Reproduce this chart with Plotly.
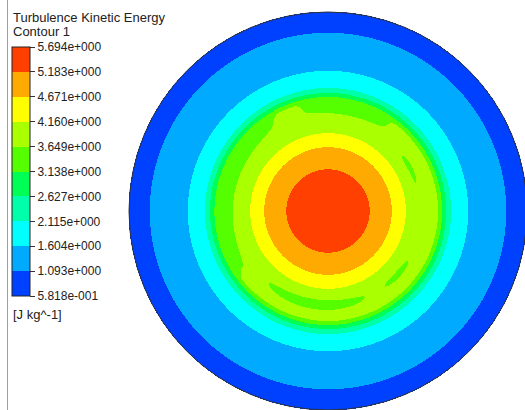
import numpy as np
import plotly.graph_objects as go

# Contour levels of the legend, turbulence kinetic energy [J kg^-1]
LEVELS = [0.5818, 1.093, 1.604, 2.115, 2.627, 3.138, 3.649, 4.160, 4.671, 5.183, 5.694]
BAND_COLORS = ["#0040ff", "#00aaff", "#00ffff", "#00ffaa", "#00ff55",
               "#55ff00", "#aaff00", "#ffff00", "#ffaa00", "#ff4000"]

# Mean radial profile of k over the pipe cross-section (r / R  ->  k)
PROFILE_R = [0.000, 0.100, 0.211, 0.322, 0.392, 0.462, 0.523, 0.553, 0.573, 0.593, 0.618, 0.704, 0.894, 1.000]
PROFILE_K = [5.80, 5.65, 5.183, 4.671, 4.160, 3.87, 3.78, 3.649, 3.138, 2.627, 2.115, 1.604, 1.093, 0.60]

# Low-k swirl streaks in the annular region: angular span (deg), radius (r / R), radial width, depth of the dip
STREAK_T0 = [118, 52, 222, 10, 300]
STREAK_T1 = [218, 108, 302, 45, 335]
STREAK_R = [0.515, 0.515, 0.468, 0.462, 0.472]
STREAK_W = [0.040, 0.030, 0.032, 0.026, 0.026]
STREAK_DEPTH = [0.45, 0.35, 0.40, 0.28, 0.28]


def fluent_fmt(v):
    exp = int(np.floor(np.log10(abs(v))))
    mant = v / 10 ** exp
    sign = "+" if exp >= 0 else "-"
    return f"{mant:.3f}e{sign}{abs(exp):03d}"


# Sample the section on a regular grid
n = 401
xs = np.linspace(-1.0, 1.0, n)
ys = np.linspace(-1.0, 1.0, n)
X, Y = np.meshgrid(xs, ys)
R = np.hypot(X, Y)
TH = np.degrees(np.arctan2(Y, X)) % 360.0

K = np.interp(R, PROFILE_R, PROFILE_K)
for t0, t1, rc, w, d in zip(STREAK_T0, STREAK_T1, STREAK_R, STREAK_W, STREAK_DEPTH):
    s = (TH - t0) / (t1 - t0)
    win = np.where((s > 0) & (s < 1), np.sin(np.pi * np.clip(s, 0, 1)) ** 0.6, 0.0)
    K -= d * win * np.exp(-((R - rc) / w) ** 2)
K = np.where(R <= 1.0, K, np.nan)

# Stepped colour scale: one flat colour per contour band
nb = len(BAND_COLORS)
colorscale = []
for i, c in enumerate(BAND_COLORS):
    colorscale.append([i / nb, c])
    colorscale.append([(i + 1) / nb, c])

W, H = 525, 410
PX = 199.0          # pixels per pipe radius
CX, CY = 328.0, 211.0

fig = go.Figure()
fig.add_trace(go.Heatmap(
    x=xs, y=ys, z=K,
    zmin=LEVELS[0], zmax=LEVELS[-1],
    colorscale=colorscale, zsmooth=False, hoverinfo="skip",
    colorbar=dict(
        x=12 / W, xanchor="left", xpad=0,
        y=1 - 171.5 / H, yanchor="middle", ypad=0,
        thickness=18, thicknessmode="pixels",
        len=249, lenmode="pixels",
        tickmode="array", tickvals=LEVELS,
        ticktext=[fluent_fmt(v) for v in LEVELS],
        ticks="outside", ticklen=5, tickcolor="#333333",
        tickfont=dict(family="Liberation Sans, Arial, sans-serif", size=12, color="#222222"),
        outlinecolor="#222222", outlinewidth=1,
    ),
))

fig.update_layout(
    width=W, height=H,
    margin=dict(l=0, r=0, t=0, b=0),
    paper_bgcolor="white", plot_bgcolor="white",
    xaxis=dict(range=[-CX / PX, (W - CX) / PX], visible=False, fixedrange=True),
    yaxis=dict(range=[-(H - CY) / PX, CY / PX], visible=False, fixedrange=True),
    showlegend=False,
    font=dict(family="Liberation Sans, Arial, sans-serif", color="#222222"),
    shapes=[
        dict(type="circle", xref="x", yref="y", x0=-1, y0=-1, x1=1, y1=1,
             line=dict(color="#333333", width=1)),
        dict(type="line", xref="paper", yref="paper", x0=7.5 / W, x1=7.5 / W, y0=0, y1=1,
             line=dict(color="#a0a0a0", width=1)),
    ],
    annotations=[
        dict(text="Turbulence Kinetic Energy", xref="paper", yref="paper",
             x=11 / W, y=1 - 17 / H, xanchor="left", yanchor="middle",
             showarrow=False, font=dict(size=13)),
        dict(text="Contour 1", xref="paper", yref="paper",
             x=11 / W, y=1 - 31.5 / H, xanchor="left", yanchor="middle",
             showarrow=False, font=dict(size=13)),
        dict(text="[J kg^-1]", xref="paper", yref="paper",
             x=11 / W, y=1 - 314 / H, xanchor="left", yanchor="middle",
             showarrow=False, font=dict(size=13)),
    ],
)

fig.write_html("out.html")
